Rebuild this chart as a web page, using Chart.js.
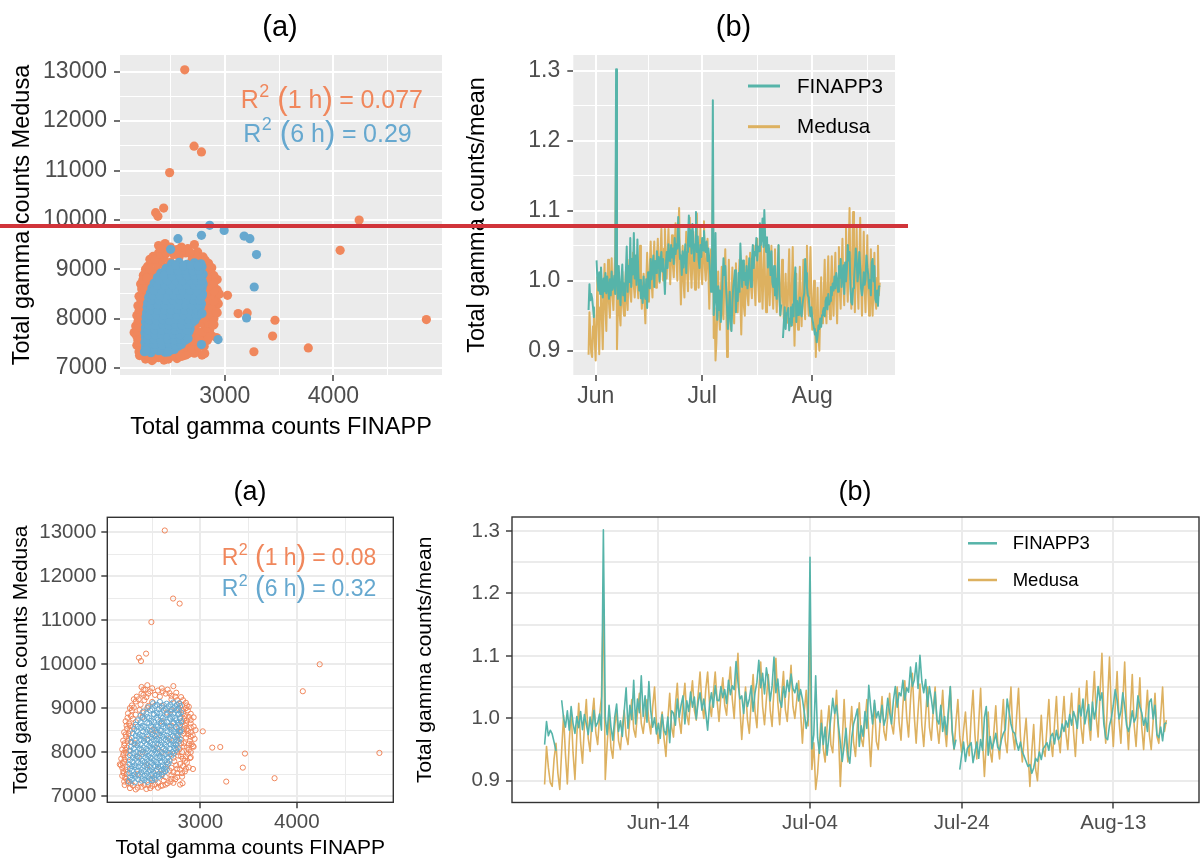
<!DOCTYPE html>
<html>
<head>
<meta charset="utf-8">
<title>Total gamma counts: FINAPP vs Medusa</title>
<script src="https://cdn.jsdelivr.net/npm/chart.js@4.4.1/dist/chart.umd.min.js"></script>
<style>
  html, body { margin: 0; padding: 0; background: #ffffff; }
  #page { position: relative; width: 1203px; height: 861px; overflow: hidden; background: #ffffff; }
  #page canvas { position: absolute; left: 0; top: 0; }
  #cut { position: absolute; left: 0; top: 223.5px; width: 908px; height: 4.5px; background: #D1343A; }
</style>
</head>
<body>
<div id="page">
  <canvas id="tl" width="1203" height="861"></canvas>
  <canvas id="tr" width="1203" height="861"></canvas>
  <canvas id="bl" width="1203" height="861"></canvas>
  <canvas id="br" width="1203" height="861"></canvas>
  <div id="cut"></div>
</div>
<script>
// ---------- data ----------

// hourly pairs (FINAPP counts, Medusa counts)
const counts1h = [
  [2270,7180],[2330,7150],[2390,7210],[2440,7160],[2500,7230],[2560,7190],[2610,7240],[2300,7240],[2460,7250],[2640,7260],
  [2210,7330],[2250,7290],[2560,7310],[2620,7350],[2690,7330],[2740,7380],[2790,7260],[2230,7390],[2660,7290],[2720,7300],
  [2190,7460],[2200,7560],[2235,7500],[2640,7430],[2700,7470],[2760,7520],[2810,7440],[2840,7560],[2680,7580],[2790,7600],[2220,7420],[2600,7500],
  [2175,7700],[2190,7640],[2210,7780],[2240,7660],[2700,7640],[2750,7700],[2820,7680],[2860,7760],[2730,7790],[2880,7650],[2660,7720],[2165,7720],
  [2180,7850],[2200,7930],[2230,7980],[2250,7880],[2720,7870],[2770,7920],[2820,7850],[2870,7960],[2900,7880],[2760,8000],[2690,7950],
  [2190,8060],[2210,8150],[2240,8100],[2260,8030],[2780,8060],[2830,8130],[2880,8050],[2910,8180],[2930,8120],[2750,8170],[2800,8200],
  [2200,8260],[2230,8350],[2260,8300],[2280,8230],[2800,8280],[2850,8330],[2890,8250],[2920,8380],[2940,8300],[2870,8400],[2760,8360],
  [2210,8450],[2240,8530],[2270,8480],[2300,8580],[2810,8470],[2860,8520],[2900,8450],[2930,8580],[2950,8500],[2840,8600],[2780,8560],
  [2225,8700],[2260,8650],[2300,8760],[2330,8680],[2810,8680],[2860,8720],[2900,8650],[2930,8790],[2880,8800],[2790,8770],
  [2250,8880],[2290,8950],[2330,8850],[2370,8960],[2400,8900],[2820,8880],[2870,8950],[2900,8870],[2850,9000],[2780,8980],
  [2290,9060],[2330,9150],[2380,9080],[2420,9180],[2460,9050],[2500,9140],[2810,9060],[2850,9120],[2760,9180],[2700,9200],[2880,9030],
  [2340,9260],[2390,9330],[2440,9250],[2480,9380],[2530,9300],[2580,9260],[2640,9330],[2700,9280],[2750,9350],[2800,9250],[2610,9380],
  [2390,9480],[2430,9420],[2600,9450],[2720,9500],[2660,9420],[2450,9520],
  [2215,7250],[2245,7350],[2205,7520],[2225,7600],[2195,7750],[2215,7830],[2205,7980],[2225,8050],[2215,8200],[2245,8250],[2225,8400],
  [2255,8420],[2235,8600],[2270,8600],[2245,8780],[2280,8820],[2270,9000],[2310,9010],[2310,9200],[2360,9200],[2410,9300],[2460,9330],
  [2350,7190],[2420,7250],[2480,7180],[2530,7260],[2590,7230],[2280,7280],[2380,7290],[2700,7390],[2760,7430],
  [2720,7540],[2810,7520],[2760,7620],[2850,7620],[2790,7730],[2840,7800],[2800,7900],[2850,7900],[2810,8000],[2900,8000],[2860,8100],
  [2830,8200],[2880,8190],[2830,8420],[2900,8350],[2870,8480],[2830,8520],[2900,8560],[2850,8660],[2830,8750],[2900,8730],[2840,8820],
  [2810,8950],[2860,9060],[2780,9100],[2820,9180],[2740,9260],[2680,9340],[2560,9400],[2500,9450],[2410,9420],
  [2350,7500],[2450,7700],[2400,8000],[2550,8100],[2500,8500],[2600,8700],[2450,8300],[2650,8900],[2350,7900],[2600,8000],
  [2700,8600],[2550,7600],[2400,8800],[2500,7400],[2680,8300],[2320,8200],[2450,9000],[2600,9050],[2550,8400],[2700,8950],
  [2631,13040],[2717,11492],[2785,11377],[2492,10957],[2363,10146],[2384,10071],[2437,10239],[4237,9996],[4062,9383],[4856,7980],
  [3769,7405],[3268,7328],[3440,7646],[3462,7966],[3123,8101],[3206,8114],[3025,8471],[2892,7864],[2923,8134],[2923,7615],[2815,7291]
];

// 6-hourly pairs (FINAPP counts, Medusa counts)
const counts6h = [
  [2260,7330],[2320,7310],[2390,7350],[2450,7320],[2500,7360],
  [2270,7420],[2330,7440],[2400,7400],[2460,7450],[2520,7410],[2570,7440],
  [2265,7520],[2320,7490],[2385,7540],[2445,7510],[2510,7550],[2570,7500],[2615,7540],
  [2270,7620],[2330,7650],[2390,7600],[2450,7640],[2500,7610],[2560,7660],[2620,7620],[2650,7600],
  [2265,7720],[2320,7700],[2380,7740],[2440,7710],[2500,7750],[2560,7720],[2610,7700],[2670,7740],
  [2270,7820],[2330,7850],[2395,7800],[2450,7840],[2515,7810],[2575,7860],[2630,7820],[2680,7800],
  [2270,7930],[2340,7900],[2400,7950],[2460,7910],[2520,7940],[2580,7900],[2640,7950],[2700,7920],
  [2275,8030],[2335,8000],[2390,8050],[2455,8020],[2520,8060],[2580,8010],[2640,8040],[2710,8000],[2750,8050],
  [2280,8120],[2345,8150],[2410,8100],[2470,8140],[2530,8110],[2590,8160],[2650,8120],[2720,8150],[2765,8100],
  [2285,8230],[2350,8200],[2415,8250],[2480,8210],[2540,8260],[2600,8220],[2660,8250],[2720,8200],[2775,8240],
  [2290,8320],[2360,8350],[2420,8310],[2490,8340],[2550,8300],[2610,8350],[2670,8320],[2735,8340],[2785,8300],
  [2300,8430],[2370,8400],[2440,8450],[2500,8410],[2560,8440],[2620,8400],[2690,8450],[2750,8420],[2790,8460],
  [2315,8520],[2385,8550],[2450,8510],[2520,8540],[2580,8500],[2640,8550],[2700,8510],[2760,8540],[2795,8500],
  [2330,8620],[2400,8600],[2470,8650],[2540,8610],[2600,8640],[2660,8600],[2720,8650],[2790,8620],
  [2350,8720],[2420,8750],[2490,8710],[2560,8740],[2620,8700],[2690,8750],[2750,8720],[2800,8700],
  [2380,8830],[2450,8800],[2520,8850],[2590,8810],[2650,8840],[2710,8800],[2770,8850],
  [2410,8920],[2480,8950],[2550,8900],[2620,8940],[2690,8910],[2750,8950],[2800,8900],
  [2460,9020],[2530,9050],[2600,9010],[2670,9040],[2730,9000],[2790,9050],
  [2510,9110],[2580,9140],[2650,9100],[2720,9130],[2780,9110],
  [2290,7370],[2355,7380],[2420,7365],[2480,7385],[2535,7375],
  [2295,7470],[2360,7475],[2425,7465],[2490,7480],[2545,7470],[2600,7475],
  [2290,7570],[2350,7575],[2415,7565],[2475,7580],[2540,7570],[2595,7580],[2635,7560],
  [2295,7675],[2360,7670],[2420,7680],[2475,7665],[2530,7680],[2590,7675],[2640,7665],
  [2295,7770],[2355,7775],[2420,7765],[2480,7780],[2540,7770],[2600,7780],[2655,7770],
  [2300,7875],[2365,7870],[2430,7880],[2485,7865],[2545,7880],[2605,7870],[2665,7880],
  [2305,7975],[2370,7970],[2430,7980],[2490,7965],[2550,7980],[2610,7970],[2670,7985],[2725,7965],
  [2310,8075],[2370,8080],[2440,8070],[2500,8085],[2560,8070],[2620,8080],[2680,8075],[2735,8085],
  [2315,8175],[2380,8170],[2445,8180],[2505,8170],[2565,8185],[2630,8175],[2690,8180],[2745,8170],
  [2320,8270],[2385,8280],[2450,8270],[2515,8285],[2575,8270],[2640,8280],[2700,8270],[2760,8280],
  [2330,8375],[2395,8370],[2460,8380],[2525,8370],[2585,8380],[2650,8375],[2715,8370],[2770,8380],
  [2340,8475],[2405,8470],[2475,8480],[2535,8470],[2595,8480],[2660,8475],[2725,8470],[2775,8480],
  [2350,8575],[2420,8570],[2490,8580],[2555,8570],[2615,8580],[2680,8575],[2745,8570],
  [2380,8675],[2450,8670],[2520,8680],[2590,8670],[2655,8680],[2720,8675],[2775,8670],
  [2400,8775],[2470,8770],[2545,8780],[2610,8770],[2680,8780],[2740,8775],[2790,8770],
  [2440,8875],[2515,8870],[2585,8880],[2655,8870],[2720,8880],[2780,8870],
  [2500,8975],[2570,8970],[2640,8980],[2705,8970],[2765,8980],
  [2550,9075],[2620,9070],[2690,9080],[2755,9070]
];

// 6-hourly pairs lying outside the main cloud (upper-left panel series)
const counts6hOutlying = [
  [2501,9403],[2569,9619],[2785,9686],[2861,9889],[2994,9787],[3178,9672],[3231,9619],[3292,9296],
  [3271,8640],[3200,8012],[2790,8101],[2938,7575],[2785,7474],[2661,7595],[2277,7358],[2477,7324]
];

// normalised series, one value every 6 h, day 0 = 1 June
const seriesStartDay = -2;
const seriesStepDays = 0.25;
const finapp3Ratio = [
  0.958,0.995,0.972,0.981, 0.975,0.962,0.948,null, null,1.029,1.001,0.986, 1.012,0.981,1.019,0.992,
  0.976,1.003,0.985,1.011, 0.982,1.006,0.991,0.974, 1.002,0.979,1.013,0.987, 0.993,1.007,0.981,1.302,
  1.001,0.974,1.021,0.986, 0.965,1.002,1.023,0.979, 0.996,0.971,1.012,1.049, 0.984,1.021,0.998,1.061,
  0.991,1.031,1.009,1.068, 1.003,1.036,0.994,1.059, 1.012,0.986,1.001,0.975, 0.992,0.968,1.006,0.981,
  0.974,1.002,0.961,1.012, 1.008,0.989,1.031,1.002, 1.021,1.036,0.991,1.028, 1.011,1.042,1.018,1.034,
  0.999,1.026,1.041,1.013, 1.031,1.009,0.981,1.022, 1.041,1.018,1.052,1.029, 1.028,1.051,1.033,1.046,
  1.024,1.061,1.038,1.052, 1.046,1.091,1.058,1.031, 1.036,1.008,1.042,1.019, 1.031,1.052,1.011,1.041,
  1.058,1.093,1.049,1.072, 1.039,1.081,1.061,1.028, 1.052,1.098,1.041,1.063, 1.029,1.018,1.051,1.034,
  1.061,1.043,1.071,1.048, 1.041,1.056,1.028,1.046, 1.031,1.009,0.984,1.002, 1.258,0.951,0.974,1.068,
  0.969,0.944,0.992,0.958, 0.986,0.941,0.972,1.001, 1.032,1.008,1.021,0.989, 0.961,0.931,0.956,0.984,
  0.942,0.928,0.969,0.991, 1.002,1.015,0.955,0.988, 0.971,1.011,0.984,1.053, 1.019,0.991,1.029,1.001,
  1.011,0.994,1.021,0.989, 1.001,1.032,1.009,0.991, 1.029,1.051,1.018,1.041, 1.036,1.061,1.029,1.049,
  1.042,1.082,1.051,1.061, 1.089,1.048,1.101,1.059, 1.041,1.062,1.019,1.051, 1.031,1.008,1.042,0.998,
  0.991,1.021,0.979,1.003, 0.974,1.012,1.051,0.981, 0.951,0.966,null,0.918, 0.941,0.962,0.931,0.952,
  0.956,0.961,0.929,0.946, 0.962,0.936,0.966,0.949, 1.001,1.019,0.941,0.971, 0.951,0.962,0.976,0.954,
  0.949,0.966,0.976,0.982, 1.031,1.011,0.991,0.979, 0.976,0.961,0.949,0.962, 0.946,0.939,0.931,0.923,
  0.926,0.912,0.921,0.936, 0.931,0.946,0.934,0.951, 0.956,0.961,0.949,0.971, 0.976,0.959,0.981,0.966,
  0.971,0.991,0.979,0.996, 0.986,1.006,0.989,1.011, 1.001,0.984,1.021,1.004, 1.031,0.991,1.009,1.022,
  0.981,1.026,0.999,1.016, 1.051,1.029,1.041,0.991, 0.969,0.966,0.989,1.001, 1.021,1.046,1.029,0.999,
  1.011,1.041,1.019,0.989, 0.979,0.991,1.012,0.994, 1.002,1.036,1.019,1.009, 0.989,1.001,0.979,1.026,
  1.031,0.999,1.021,0.974, 0.969,0.986,0.964,0.991, 0.993
];
const medusaRatio = [
  0.894,0.955,0.921,0.897, 0.891,0.935,0.960,0.912, 0.886,0.948,1.005,0.942, 0.895,0.962,1.013,0.945,
  0.902,0.973,1.024,0.961, 0.928,0.988,1.030,0.968, 0.947,1.002,1.032,0.977, 0.958,1.004,1.035,1.190,
  0.902,0.958,1.005,0.953, 0.936,0.987,1.013,0.964, 0.950,0.988,1.013,0.972, 0.958,1.002,1.030,0.983,
  0.970,1.011,1.040,0.992, 0.976,1.003,1.030,0.996, 0.975,1.018,1.050,0.991, 0.960,0.987,1.010,0.968,
  0.939,0.998,1.040,0.986, 0.970,1.022,1.056,0.998, 0.976,1.024,1.056,1.006, 0.990,1.031,1.060,1.013,
  0.997,1.038,1.074,1.022, 1.000,1.046,1.074,1.024, 1.003,1.041,1.074,1.028, 0.995,1.036,1.065,1.021,
  1.005,1.048,1.082,1.031, 1.000,1.061,1.104,1.018, 0.966,1.012,1.050,0.998, 0.976,1.028,1.070,1.011,
  0.985,1.046,1.090,1.019, 0.990,1.031,1.070,1.013, 0.987,1.048,1.096,1.026, 0.990,1.036,1.075,1.014,
  0.995,1.041,1.085,1.019, 1.000,1.029,1.060,1.011, 0.960,1.012,1.045,0.988, 1.150,0.918,0.961,0.886,
  0.912,0.958,1.013,0.951, 0.930,0.986,1.020,0.958, 0.945,1.002,1.045,0.978, 0.891,0.962,1.030,0.964,
  0.930,0.978,1.019,0.961, 0.939,0.991,1.025,0.968, 0.955,0.994,1.030,0.976, 0.923,0.981,1.024,0.963,
  0.950,0.996,1.035,0.979, 0.965,1.004,1.040,0.991, 0.975,1.016,1.050,0.994, 0.965,1.021,1.060,1.002,
  0.970,1.028,1.072,1.004, 0.960,1.011,1.055,0.989, 0.955,1.004,1.050,0.986, 0.965,1.012,1.050,0.988,
  0.960,0.999,1.045,0.986, 0.955,1.006,1.050,0.978, 0.950,0.994,1.030,0.971, 0.945,0.981,1.010,0.963,
  0.940,1.002,1.045,0.974, 0.935,0.993,1.048,0.966, 0.907,0.961,1.010,0.948, 0.930,0.979,1.020,0.961,
  0.935,0.986,1.030,0.964, 0.945,1.001,1.050,0.974, 0.950,1.004,1.048,0.971, 0.930,0.968,1.000,0.946,
  0.891,0.947,0.990,0.919, 0.900,0.953,1.005,0.951, 0.939,0.986,1.030,0.963, 0.939,0.991,1.035,0.969,
  0.945,0.994,1.035,0.976, 0.950,1.001,1.040,0.979, 0.939,0.998,1.048,0.986, 0.960,1.016,1.060,0.994,
  0.965,1.023,1.075,1.001, 0.970,1.041,1.104,1.008, 0.960,1.031,1.098,1.004, 0.955,1.018,1.075,0.996,
  0.960,1.026,1.090,0.999, 0.950,1.011,1.070,0.989, 0.955,1.009,1.065,0.986, 0.950,1.001,1.045,0.974,
  0.950,0.996,1.040,0.971, 0.960,1.004,1.050,0.979, 0.997
];
const seriesNames = ['FINAPP3', 'Medusa'];

// axis breaks
const countTicksX = [2500, 3000, 3500, 4000, 4500];
const countLabelsX = ['', '3000', '', '4000', ''];
const countTicksY = [7000, 7500, 8000, 8500, 9000, 9500, 10000, 10500, 11000, 11500, 12000, 12500, 13000];
const countLabelsY = ['7000', '', '8000', '', '9000', '', '10000', '', '11000', '', '12000', '', '13000'];
const ratioTicks = [0.9, 0.95, 1.0, 1.05, 1.1, 1.15, 1.2, 1.25, 1.3];
const ratioLabels = ['0.9', '', '1.0', '', '1.1', '', '1.2', '', '1.3'];
const monthTicks = [0, 15, 30, 45.5, 61, 76.5];
const monthLabels = ['Jun', '', 'Jul', '', 'Aug', ''];
const dateTicks = [13, 33, 53, 73];
const dateLabels = ['Jun-14', 'Jul-04', 'Jul-24', 'Aug-13'];

// R-squared annotations
const r2Windows = ['1 h', '6 h'];
const r2Upper = ['0.077', '0.29'];
const r2Lower = ['0.08', '0.32'];

// ---------- drawing ----------
const FONT = '"Liberation Sans", Arial, Helvetica, sans-serif';
const PAGE_W = 1203, PAGE_H = 861;
const C_1H = '#F0875C', C_6H = '#66A8CF';
const C_FIN = '#56B4A9', C_MED = '#DDB160';
const TICK_TXT = '#4D4D4D', INK = '#000000';

const asXY = (pairs) => pairs.map(p => ({ x: p[0], y: p[1] }));
const asSeries = (vals) => vals.map((v, i) => ({ x: seriesStartDay + i * seriesStepDays, y: v }));

function labelFor(ticks, labels) {
  return (v) => { const i = ticks.indexOf(v); return i < 0 ? '' : labels[i]; };
}

const decorByCanvas = {};

const decorPlugin = {
  id: 'panelDecor',
  beforeDraw(chart) {
    const d = decorByCanvas[chart.canvas.id];
    const a = chart.chartArea;
    if (d && d.fill) {
      const ctx = chart.ctx;
      ctx.save();
      ctx.fillStyle = d.fill;
      ctx.fillRect(a.left, a.top, a.right - a.left, a.bottom - a.top);
      ctx.restore();
    }
  },
  afterDraw(chart) {
    const d = decorByCanvas[chart.canvas.id];
    if (!d) return;
    const ctx = chart.ctx;
    const a = chart.chartArea;
    ctx.save();
    if (d.border) {
      ctx.strokeStyle = d.border;
      ctx.lineWidth = 1.4;
      ctx.strokeRect(a.left, a.top, a.right - a.left, a.bottom - a.top);
    }
    if (d.title) {
      ctx.fillStyle = INK;
      ctx.font = d.title.size + 'px ' + FONT;
      ctx.textAlign = 'center';
      ctx.textBaseline = 'alphabetic';
      ctx.fillText(d.title.text, d.title.x, d.title.y);
    }
    if (d.legend) {
      const L = d.legend;
      chart.data.datasets.forEach((ds, i) => {
        const y = L.ys[i];
        ctx.strokeStyle = ds.borderColor;
        ctx.lineWidth = L.lw;
        ctx.beginPath();
        ctx.moveTo(L.x0, y);
        ctx.lineTo(L.x1, y);
        ctx.stroke();
        ctx.fillStyle = INK;
        ctx.font = L.size + 'px ' + FONT;
        ctx.textAlign = 'left';
        ctx.textBaseline = 'middle';
        ctx.fillText(ds.label, L.tx, y + 1);
      });
    }
    if (d.r2) {
      const R = d.r2;
      R.values.forEach((val, i) => drawR2(ctx, R.x[i], R.y[i], R.size, R.colors[i], r2Windows[i], val));
    }
    ctx.restore();
  }
};

// plotmath-like "R^2 (w) = v"
function drawR2(ctx, x, base, size, color, windowText, valueText) {
  ctx.fillStyle = color;
  ctx.textAlign = 'left';
  ctx.textBaseline = 'alphabetic';
  let cx = x;
  ctx.font = size + 'px ' + FONT;
  ctx.fillText('R', cx, base);
  cx += ctx.measureText('R').width + 0.5;
  const sup = Math.round(size * 0.7);
  ctx.font = sup + 'px ' + FONT;
  ctx.fillText('2', cx, base - size * 0.45);
  cx += ctx.measureText('2').width + size * 0.32;
  const big = size * 1.25;
  ctx.font = big + 'px ' + FONT;
  ctx.fillText('(', cx, base + size * 0.05);
  cx += ctx.measureText('(').width;
  ctx.font = size + 'px ' + FONT;
  ctx.fillText(windowText, cx, base);
  cx += ctx.measureText(windowText).width;
  ctx.font = big + 'px ' + FONT;
  ctx.fillText(')', cx, base + size * 0.05);
  cx += ctx.measureText(')').width + size * 0.26;
  ctx.font = size + 'px ' + FONT;
  ctx.fillText('=', cx, base);
  cx += ctx.measureText('=').width + size * 0.26;
  ctx.fillText(valueText, cx, base);
}

function gridFor(ticks, labels, style) {
  const isMajor = (ctx) => ctx.tick && labels[ticks.indexOf(ctx.tick.value)] !== '';
  return {
    color: style.gridColor,
    lineWidth: (ctx) => (isMajor(ctx) ? style.majorW : style.minorW),
    tickColor: (ctx) => (isMajor(ctx) ? '#333333' : 'rgba(0,0,0,0)'),
    tickLength: 6,
    tickWidth: 1.4,
    drawTicks: true
  };
}

function buildPanel(id, p) {
  decorByCanvas[id] = p.decor;
  const xLabel = labelFor(p.xTicks, p.xLabels);
  const yLabel = labelFor(p.yTicks, p.yLabels);
  return new Chart(document.getElementById(id), {
    type: p.type,
    data: { datasets: p.datasets },
    options: {
      responsive: false,
      animation: false,
      devicePixelRatio: 1,
      events: [],
      layout: {
        padding: {
          left: p.area.l - p.yBox,
          top: p.area.t,
          right: PAGE_W - p.area.r,
          bottom: PAGE_H - p.area.b - p.xBox
        }
      },
      plugins: { legend: { display: false }, tooltip: { enabled: false }, title: { display: false } },
      scales: {
        x: {
          type: 'linear',
          position: 'bottom',
          min: p.xMin,
          max: p.xMax,
          afterBuildTicks: (s) => { s.ticks = p.xTicks.map(v => ({ value: v })); },
          afterFit: (s) => { s.height = p.xBox; },
          ticks: {
            autoSkip: false, maxRotation: 0, minRotation: 0,
            padding: p.xTickPad, color: TICK_TXT,
            font: { family: FONT, size: p.tickSize },
            callback: (v) => xLabel(v)
          },
          grid: gridFor(p.xTicks, p.xLabels, { gridColor: p.gridColor, majorW: 2, minorW: 1 }),
          border: { display: false },
          title: p.xTitle ? {
            display: true, text: p.xTitle, color: INK,
            font: { family: FONT, size: p.titleSize },
            padding: { top: 0, bottom: p.xTitlePad }
          } : { display: false }
        },
        y: {
          type: 'linear',
          position: 'left',
          min: p.yMin,
          max: p.yMax,
          afterBuildTicks: (s) => { s.ticks = p.yTicks.map(v => ({ value: v })); },
          afterFit: (s) => { s.width = p.yBox; },
          ticks: {
            autoSkip: false,
            padding: p.yTickPad, color: TICK_TXT,
            font: { family: FONT, size: p.tickSize },
            callback: (v) => yLabel(v)
          },
          grid: gridFor(p.yTicks, p.yLabels, { gridColor: p.gridColor, majorW: 2, minorW: p.yMinorW }),
          border: { display: false },
          title: {
            display: true, text: p.yTitle, color: INK,
            font: { family: FONT, size: p.titleSize },
            padding: { top: p.yTitlePad, bottom: 0 }
          }
        }
      }
    },
    plugins: [decorPlugin]
  });
}

function scatterSets(filled, radius, withOutlying) {
  const six = withOutlying ? counts6h.concat(counts6hOutlying) : counts6h;
  const style = (c) => filled
    ? { backgroundColor: c, borderColor: c, borderWidth: 0, pointRadius: radius }
    : { backgroundColor: 'rgba(0,0,0,0)', borderColor: c, borderWidth: 1, pointRadius: radius };
  return [
    Object.assign({ label: '6 h', data: asXY(six) }, style(C_6H)),
    Object.assign({ label: '1 h', data: asXY(counts1h) }, style(C_1H))
  ];
}

function seriesSets(width) {
  const common = { pointRadius: 0, borderWidth: width, tension: 0, spanGaps: false, fill: false, borderJoinStyle: 'round' };
  return [
    Object.assign({ label: seriesNames[0], data: asSeries(finapp3Ratio), borderColor: C_FIN }, common),
    Object.assign({ label: seriesNames[1], data: asSeries(medusaRatio), borderColor: C_MED }, common)
  ];
}

const countRange = { xMin: 2035, xMax: 5000, yMin: 6857, yMax: 13340 };
const ratioRange = { xMin: -6.3, xMax: 84.3, yMin: 0.8652, yMax: 1.3225 };

// upper-left: scatter, grey panel
buildPanel('tl', Object.assign({
  type: 'scatter',
  datasets: scatterSets(true, 4.6, true),
  area: { l: 120, t: 55, r: 442, b: 375 }, yBox: 120, xBox: 75,
  xTicks: countTicksX, xLabels: countLabelsX, yTicks: countTicksY, yLabels: countLabelsY,
  tickSize: 23, titleSize: 23.5, xTickPad: 2, yTickPad: 7, xTitlePad: 8.5, yTitlePad: 8.5, yMinorW: 1,
  gridColor: '#FFFFFF',
  xTitle: 'Total gamma counts FINAPP', yTitle: 'Total gamma counts Medusa',
  decor: {
    fill: '#EBEBEB',
    title: { text: '(a)', x: 280, y: 35.5, size: 29 },
    r2: { size: 25, x: [240.7, 243.3], y: [108, 141.7], colors: [C_1H, C_6H], values: r2Upper }
  }
}, countRange));

// upper-right: series, grey panel
buildPanel('tr', Object.assign({
  type: 'line',
  datasets: seriesSets(2),
  area: { l: 573.3, t: 55, r: 895, b: 375 }, yBox: 113.3, xBox: 75,
  xTicks: monthTicks, xLabels: monthLabels, yTicks: ratioTicks, yLabels: ratioLabels,
  tickSize: 23, titleSize: 23.5, xTickPad: 2, yTickPad: 7, xTitlePad: 0, yTitlePad: 3.9, yMinorW: 1,
  gridColor: '#FFFFFF',
  xTitle: null, yTitle: 'Total gamma counts/mean',
  decor: {
    fill: '#EBEBEB',
    title: { text: '(b)', x: 733.5, y: 35.5, size: 29 },
    legend: { x0: 748, x1: 780, tx: 797, ys: [86, 126.7], size: 20.6, lw: 3 }
  }
}, ratioRange));

// lower-left: scatter, white panel with frame
buildPanel('bl', Object.assign({
  type: 'scatter',
  datasets: scatterSets(false, 2.6, false),
  area: { l: 107.3, t: 517.3, r: 393.3, b: 802.3 }, yBox: 107.3, xBox: 58.7,
  xTicks: countTicksX, xLabels: countLabelsX, yTicks: countTicksY, yLabels: countLabelsY,
  tickSize: 20.5, titleSize: 21, xTickPad: 2, yTickPad: 5, xTitlePad: 0.5, yTitlePad: 9, yMinorW: 1,
  gridColor: '#EBEBEB',
  xTitle: 'Total gamma counts FINAPP', yTitle: 'Total gamma counts Medusa',
  decor: {
    border: '#333333',
    title: { text: '(a)', x: 250, y: 499.5, size: 27 },
    r2: { size: 23, x: [221.7, 221.7], y: [565, 596], colors: [C_1H, C_6H], values: r2Lower }
  }
}, countRange));

// lower-right: series, white panel with frame
buildPanel('br', Object.assign({
  type: 'line',
  datasets: seriesSets(1.6),
  area: { l: 512, t: 517, r: 1199, b: 802.5 }, yBox: 112, xBox: 58.5,
  xTicks: dateTicks, xLabels: dateLabels, yTicks: ratioTicks, yLabels: ratioLabels,
  tickSize: 20.5, titleSize: 21, xTickPad: 2.5, yTickPad: 6, xTitlePad: 0, yTitlePad: 12.9, yMinorW: 2,
  gridColor: '#EBEBEB',
  xTitle: null, yTitle: 'Total gamma counts/mean',
  decor: {
    border: '#333333',
    title: { text: '(b)', x: 855, y: 500, size: 27 },
    legend: { x0: 968, x1: 997, tx: 1012.7, ys: [543.3, 580], size: 18.5, lw: 2.5 }
  }
}, ratioRange));
</script>
</body>
</html>
